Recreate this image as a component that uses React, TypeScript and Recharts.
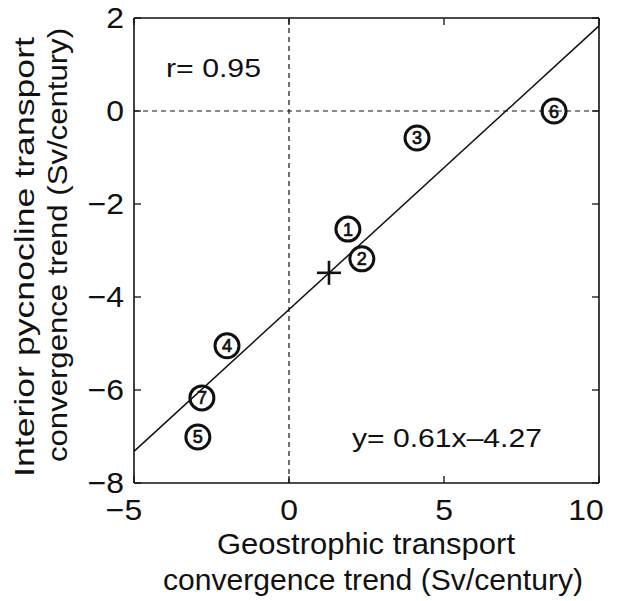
import {
  ScatterChart,
  Scatter,
  XAxis,
  YAxis,
  ReferenceLine,
} from "recharts";

// Station labels and their trends (Sv/century)
const stations = ["1", "2", "3", "4", "5", "6", "7"];
const geoTrend = [1.9, 2.35, 4.13, -2.0, -2.94, 8.55, -2.81];
const pycTrend = [-2.54, -3.18, -0.58, -5.05, -7.01, 0.0, -6.17];

// Mean of all stations, drawn as a cross
const meanGeo = [1.29];
const meanPyc = [-3.48];

// Regression line end points at the axis limits
const fitX = [-5, 10];
const fitY = [-7.32, 1.83];

const xTicks = [-5, 0, 5, 10];
const yTicks = [-8, -6, -4, -2, 0, 2];

const stationData = stations.map((name, i) => ({
  name,
  x: geoTrend[i],
  y: pycTrend[i],
}));
const meanData = meanGeo.map((x, i) => ({ x, y: meanPyc[i] }));
const fitSegment = fitX.map((x, i) => ({ x, y: fitY[i] }));

const FONT = '"Liberation Sans", Arial, Helvetica, sans-serif';

const fmt = (v: number) => (v < 0 ? `\u2212${Math.abs(v)}` : `${v}`);

// matlab pushes the outer labels a bit to the left
const xTickShift: Record<string, number> = { "-5": -10, "10": -13 };

const XTick = (props: any) => {
  const { x, y, payload } = props;
  const dx = xTickShift[String(payload.value)] || 0;
  return (
    <text
      x={0}
      y={0}
      transform={`translate(${x + dx},${y}) scale(1.1,1)`}
      textAnchor="middle"
      fontFamily={FONT}
      fontSize={29}
      fill="#111"
    >
      {fmt(payload.value)}
    </text>
  );
};

const YTick = (props: any) => {
  const { x, y, payload } = props;
  return (
    <text
      x={0}
      y={0}
      transform={`translate(${x},${y + 10}) scale(1.1,1)`}
      textAnchor="end"
      fontFamily={FONT}
      fontSize={29}
      fill="#111"
    >
      {fmt(payload.value)}
    </text>
  );
};

const CircleMark = (props: any) => {
  const { cx, cy, payload } = props;
  return (
    <g>
      <circle cx={cx} cy={cy} r={12} fill="none" stroke="#111" strokeWidth={3} />
      <text
        x={cx}
        y={cy + 6.5}
        textAnchor="middle"
        fontFamily={FONT}
        fontSize={18}
        fill="#111"
        stroke="#111"
        strokeWidth={0.7}
      >
        {payload.name}
      </text>
    </g>
  );
};

const CrossMark = (props: any) => {
  const { cx, cy } = props;
  return (
    <g stroke="#111" strokeWidth={2.6}>
      <line x1={cx - 12} y1={cy} x2={cx + 12} y2={cy} />
      <line x1={cx} y1={cy - 12} x2={cx} y2={cy + 12} />
    </g>
  );
};

const axisLine = { stroke: "#111", strokeWidth: 1.6 };
const tickLine = { stroke: "#111", strokeWidth: 1.3 };

const App = () => {
  return (
    <div
      style={{
        position: "absolute",
        left: 0,
        top: 0,
        width: 617,
        height: 601,
        background: "#fff",
      }}
    >
      <ScatterChart
        width={617}
        height={601}
        margin={{ top: 17, right: 17, left: 0, bottom: 0 }}
      >
        <XAxis
          xAxisId="b"
          type="number"
          dataKey="x"
          domain={[-5, 10]}
          ticks={xTicks}
          orientation="bottom"
          height={118}
          tickSize={-7}
          tickMargin={44}
          axisLine={axisLine}
          tickLine={tickLine}
          tick={<XTick />}
          allowDataOverflow
        />
        {/* top edge of the box, ticks only */}
        <XAxis
          xAxisId="t"
          type="number"
          dataKey="x"
          domain={[-5, 10]}
          ticks={xTicks}
          orientation="top"
          height={1}
          tickSize={-7}
          axisLine={axisLine}
          tickLine={tickLine}
          tickFormatter={() => ""}
          allowDataOverflow
        />
        <YAxis
          yAxisId="l"
          type="number"
          dataKey="y"
          domain={[-8, 2]}
          ticks={yTicks}
          orientation="left"
          width={134}
          tickSize={-7}
          tickMargin={17}
          axisLine={axisLine}
          tickLine={tickLine}
          tick={<YTick />}
          allowDataOverflow
        />
        {/* right edge of the box, ticks only */}
        <YAxis
          yAxisId="r"
          type="number"
          dataKey="y"
          domain={[-8, 2]}
          ticks={yTicks}
          orientation="right"
          width={1}
          tickSize={-7}
          axisLine={axisLine}
          tickLine={tickLine}
          tickFormatter={() => ""}
          allowDataOverflow
        />

        <ReferenceLine
          xAxisId="b"
          yAxisId="l"
          x={0}
          stroke="#111"
          strokeWidth={1.2}
          strokeDasharray="5 4"
        />
        <ReferenceLine
          xAxisId="b"
          yAxisId="l"
          y={0}
          stroke="#111"
          strokeWidth={1.2}
          strokeDasharray="5 4"
        />
        <ReferenceLine
          xAxisId="b"
          yAxisId="l"
          segment={fitSegment}
          stroke="#111"
          strokeWidth={1.5}
          ifOverflow="visible"
        />

        <Scatter
          xAxisId="b"
          yAxisId="l"
          data={stationData}
          shape={<CircleMark />}
          isAnimationActive={false}
        />
        <Scatter
          xAxisId="b"
          yAxisId="l"
          data={meanData}
          shape={<CrossMark />}
          isAnimationActive={false}
        />
      </ScatterChart>

      {/* axis titles and annotations */}
      <svg
        width={617}
        height={601}
        style={{ position: "absolute", left: 0, top: 0, pointerEvents: "none" }}
        fontFamily={FONT}
        fill="#111"
      >
        <text x={166} y={77} fontSize={25} textLength={95} lengthAdjust="spacingAndGlyphs">
          r= 0.95
        </text>
        <text x={352} y={447} fontSize={25} textLength={190} lengthAdjust="spacingAndGlyphs">
          y= 0.61x{"\u2013"}4.27
        </text>

        <text x={217} y={554} fontSize={29} textLength={298} lengthAdjust="spacingAndGlyphs">
          Geostrophic transport
        </text>
        <text x={163} y={590} fontSize={29} textLength={420} lengthAdjust="spacingAndGlyphs">
          convergence trend (Sv/century)
        </text>

        <g transform="translate(34,257) rotate(-90)">
          <text x={-220} y={0} fontSize={28} textLength={440} lengthAdjust="spacingAndGlyphs">
            Interior pycnocline transport
          </text>
        </g>
        <g transform="translate(67,245) rotate(-90)">
          <text x={-217} y={0} fontSize={28} textLength={434} lengthAdjust="spacingAndGlyphs">
            convergence trend (Sv/century)
          </text>
        </g>
      </svg>
    </div>
  );
};

export default App;
